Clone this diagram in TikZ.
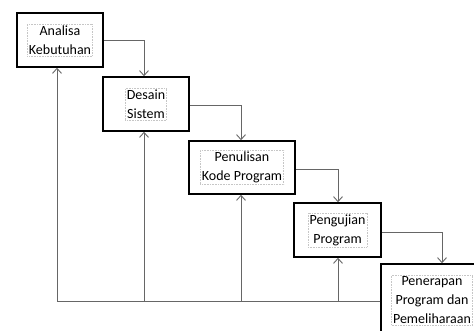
\documentclass[tikz,border=0pt]{standalone}
\usepackage{fontspec}
\setmainfont{Carlito}
\usetikzlibrary{arrows.meta}

\begin{document}
\begin{tikzpicture}[x=1pt,y=-1pt,font=\fontsize{14}{19}\selectfont]
% Styles: step boxes, their text frames and the connectors
\tikzstyle{step box}=[draw=black,line width=1.5pt,minimum width=86pt,minimum height=54pt,inner sep=0pt];
\tikzstyle{text box}=[draw=gray!45,densely dotted,line width=0.6pt,align=center,inner sep=1.5pt];
\tikzstyle{flow}=[draw=black!60,line width=0.9pt,-{Straight Barb[length=5pt,width=9pt]}];
\clip (0,0) rectangle (474,331);
% The steps
\node(s1)[step box,label={[text box]center:{Analisa\\Kebutuhan}}] at (60,40){};
\node(s2)[step box,label={[text box]center:{Desain\\Sistem}}] at (146,104){};
\node(s3)[step box,minimum width=106pt,minimum height=53pt,label={[text box]center:{Penulisan\\Kode Program}}] at (242,167.5){};
\node(s4)[step box,minimum width=87pt,label={[text box]center:{Pengujian\\Program}}] at (337.5,230){};
\node(s5)[step box,minimum width=122pt,minimum height=74pt] at (442,301){};
\node(t5)[text box] at (432,300){Penerapan\\Program dan\\Pemeliharaan};
% Going down
\draw[flow](s1.east)-|([xshift=-2pt]s2.north);
\draw[flow]([yshift=-1pt]s2.east)-|([xshift=-1pt]s3.north);
\draw[flow]([yshift=-1.5pt]s3.east)-|([xshift=0.5pt]s4.north);
\draw[flow]([yshift=-2pt]s4.east)-|(s5.north);
% Going back
\draw[flow](s5.west)-|([xshift=-3pt]s1.south);
\draw[flow]([xshift=-2pt]s2.south|-s5.west)--([xshift=-2pt]s2.south);
\draw[flow]([xshift=-1pt]s3.south|-s5.west)--([xshift=-1pt]s3.south);
\draw[flow]([xshift=0.5pt]s4.south|-s5.west)--([xshift=0.5pt]s4.south);
\end{tikzpicture}
\end{document}
